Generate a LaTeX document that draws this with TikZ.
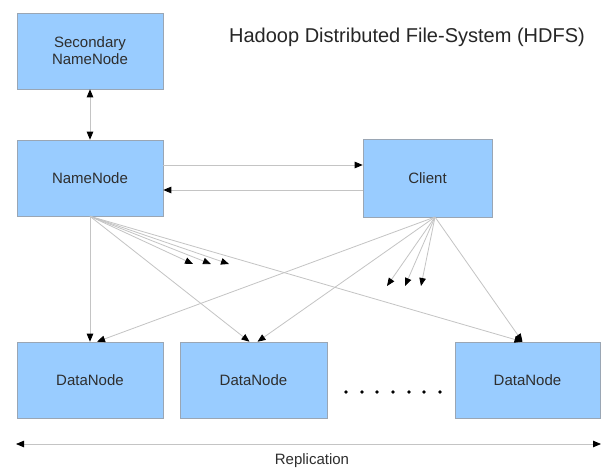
\documentclass[tikz,border=0pt]{standalone}
\usepackage{fontspec}
\setmainfont{Liberation Sans}
\usetikzlibrary{arrows.meta}
\definecolor{boxfill}{HTML}{99CCFF}
\definecolor{boxline}{HTML}{9AA6B4}
\definecolor{linegray}{HTML}{C4C4C4}
\definecolor{txt}{HTML}{2E2E2E}
\tikzset{
  hbox/.style={draw=boxline, line width=0.6pt, fill=boxfill, text=txt, font=\fontsize{15}{17}\selectfont, align=center, inner sep=0pt},
  conn/.style={draw=linegray, line width=0.8pt, -{Triangle[length=8pt,width=6.5pt,color=black]}},
  biconn/.style={draw=linegray, line width=0.8pt, {Triangle[length=8pt,width=6.5pt,color=black]}-{Triangle[length=8pt,width=6.5pt,color=black]}},
  dotmark/.style={circle, fill=black, inner sep=0pt, minimum size=3.6pt}
}
\begin{document}
\begin{tikzpicture}[x=1pt,y=-1pt]
\useasboundingbox (0,0) rectangle (602,468);
\fill[white] (0,0) rectangle (602,468);

\node[hbox, minimum width=146pt, minimum height=76pt] (sec) at (90,51) {Secondary\\NameNode};
\node[hbox, minimum width=146pt, minimum height=76pt] (nn) at (90,178) {NameNode};
\node[hbox, minimum width=129pt, minimum height=78pt] (cl) at (427.5,178) {Client};
\node[hbox, minimum width=146pt, minimum height=76pt] (d1) at (90,380) {DataNode};
\node[hbox, minimum width=147pt, minimum height=76pt] (d2) at (253.5,380) {DataNode};
\node[hbox, minimum width=145pt, minimum height=76pt] (d3) at (527.5,380) {DataNode};

\node[text=black!85, font=\fontsize{20}{24}\selectfont, anchor=center] (title) at (407,37) {Hadoop Distributed File-System (HDFS)};

% secondary <-> namenode
\draw[biconn] (sec.south) -- (nn.north);

% namenode <-> client
\draw[conn] ([yshift=13pt]nn.east) -- ([yshift=13pt]cl.west);
\draw[conn] ([yshift=-12pt]cl.west) -- ([yshift=-12pt]nn.east);

% namenode fan
\coordinate (nf1) at (193,264);
\coordinate (nf2) at (211,264);
\coordinate (nf3) at (229,264);
\draw[conn] (nn.south) -- (d1.north);
\draw[conn] (nn.south) -- ([xshift=-4pt]d2.north);
\draw[conn] (nn.south) -- ([xshift=-5pt]d3.north);
\draw[conn] (nn.south) -- (nf1);
\draw[conn] (nn.south) -- (nf2);
\draw[conn] (nn.south) -- (nf3);

% client fan
\coordinate (cs) at (435,217);
\coordinate (cf1) at (387,286);
\coordinate (cf2) at (405,286);
\coordinate (cf3) at (421,286);
\draw[conn] (cs) -- ([xshift=7pt]d1.north);
\draw[conn] (cs) -- ([xshift=4pt]d2.north);
\draw[conn] (cs) -- ([xshift=-5pt]d3.north);
\draw[conn] (cs) -- (cf1);
\draw[conn] (cs) -- (cf2);
\draw[conn] (cs) -- (cf3);

% dots
\foreach \i/\x in {1/346,2/362,3/377,4/393,5/409,6/424,7/440}
  \node[dotmark] (dot\i) at (\x,392) {};

% replication
\coordinate (rl) at (16,444);
\coordinate (rr) at (601,444);
\draw[biconn] (rl) -- (rr);
\node[text=txt, font=\fontsize{15}{17}\selectfont] (rep) at (312,461) {Replication};
\end{tikzpicture}
\end{document}
